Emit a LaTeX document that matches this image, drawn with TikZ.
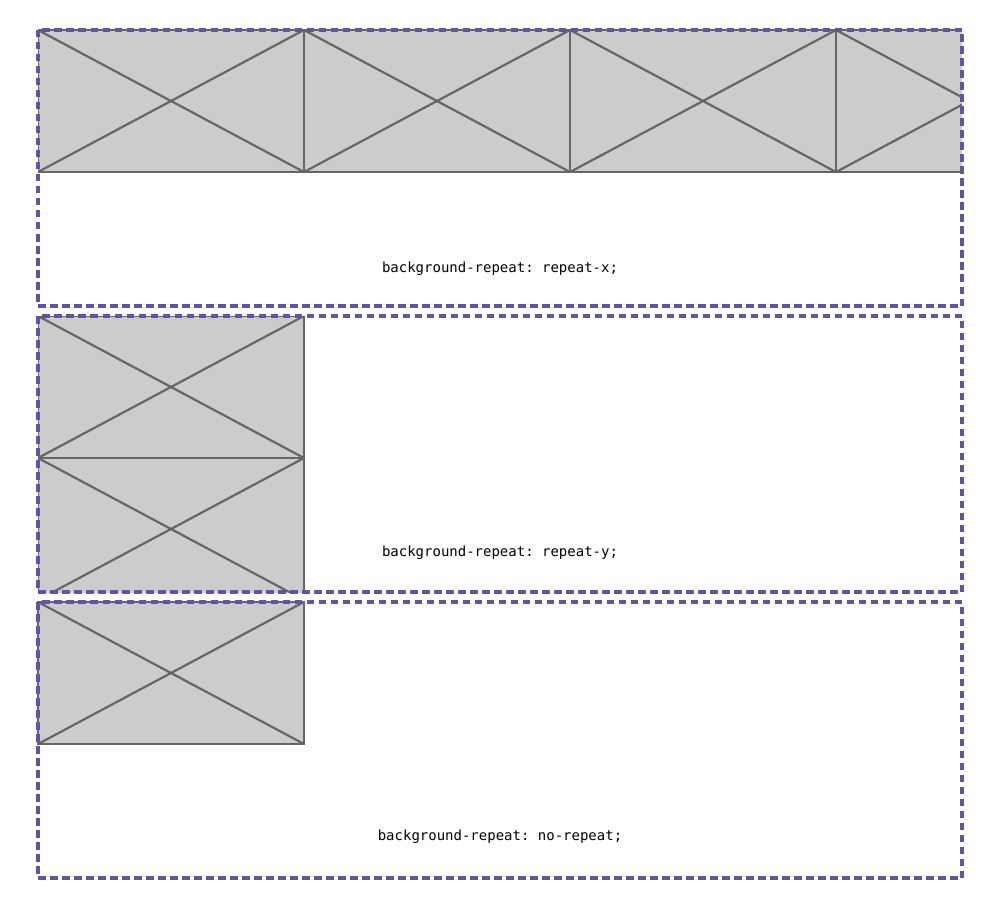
\documentclass[tikz,border=0pt]{standalone}
\usepackage{fontspec}
\setmonofont{DejaVu Sans Mono}
\usetikzlibrary{positioning}

\definecolor{framecol}{RGB}{98,82,168}
\definecolor{tilegray}{RGB}{204,204,204}
\definecolor{linegray}{RGB}{102,102,102}

\tikzset{
    boxframe/.style={rectangle, inner sep=0pt, outer sep=0pt, anchor=north west,
        minimum width=924pt, minimum height=276pt},
    dashline/.style={draw=framecol, line width=3.2pt, dash pattern=on 7.5pt off 4.5pt},
    tile/.style={fill=tilegray, draw=linegray, line width=2.2pt},
    cross/.style={draw=linegray, line width=2.2pt},
    caption/.style={font=\ttfamily\fontsize{14}{16}\selectfont},
}

% one placeholder tile with its corner at (#1,#2)
\newcommand\placetile[2]{
    \filldraw[tile] (#1,#2) rectangle ++(266,142);
    \draw[cross] (#1,#2) -- ++(266,142);
    \draw[cross] (#1,#2+142) -- ++(266,-142);
}

\begin{document}
\begin{tikzpicture}[x=1pt, y=-1pt]
    \useasboundingbox (0,0) rectangle (1000,909);

    % tiles
    \begin{scope}
        \clip (38,30) rectangle (962,306);
        \foreach \x in {38,304,570,836} {\placetile{\x}{30}}
    \end{scope}
    \begin{scope}
        \clip (38,316) rectangle (962,592);
        \foreach \y in {316,458} {\placetile{38}{\y}}
    \end{scope}
    \placetile{38}{602}

    % boxes
    \node[boxframe] (repx) at (38,30) {};
    \node[boxframe] (repy) at (38,316) {};
    \node[boxframe] (norep) at (38,602) {};
    \foreach \b in {repx,repy,norep}
        \draw[dashline] (\b.north west) rectangle (\b.south east);

    \node[caption] (repxtxt) at ([yshift=37pt]repx.south) {background-repeat: repeat-x;};
    \node[caption] (repytxt) at ([yshift=39pt]repy.south) {background-repeat: repeat-y;};
    \node[caption] (noreptxt) at ([yshift=41pt]norep.south) {background-repeat: no-repeat;};
\end{tikzpicture}
\end{document}
